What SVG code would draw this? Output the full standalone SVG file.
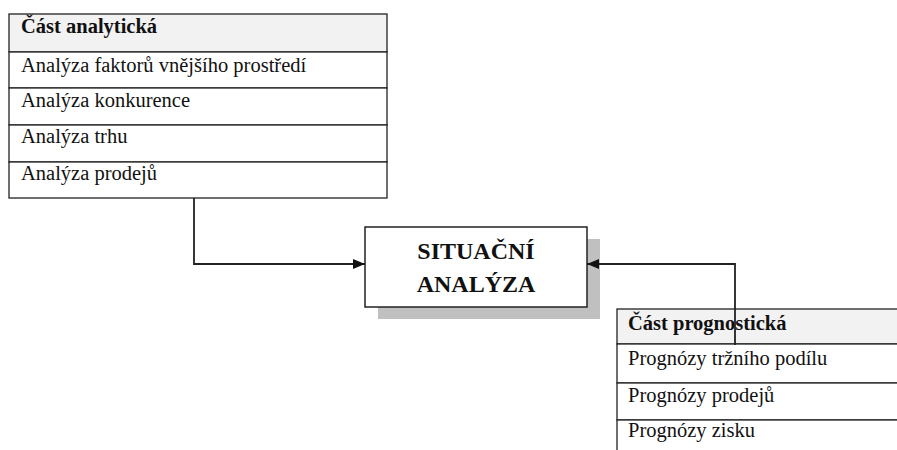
<svg xmlns="http://www.w3.org/2000/svg" width="897" height="450" viewBox="0 0 897 450">
<defs>
<style>
.cell{fill:#fff;stroke:#222;stroke-width:1.3}
.head{fill:#f2f2f2;stroke:#222;stroke-width:1.3}
.t{font-family:"Liberation Serif","Times New Roman",serif;font-size:20.5px;fill:#111}
.b{font-weight:bold}
.conn{fill:none;stroke:#222;stroke-width:1.8}
.big{font-family:"Liberation Serif","Times New Roman",serif;font-size:24px;font-weight:bold;fill:#111;text-anchor:middle}
</style>
<marker id="ah" viewBox="0 0 12 10" refX="12" refY="5" markerWidth="12" markerHeight="10" markerUnits="userSpaceOnUse" orient="auto">
<path d="M0,0 L12,5 L0,10 z" fill="#111"/>
</marker>
</defs>
<rect width="897" height="450" fill="#fff"/>
<g id="analyticka">
<rect class="head" x="9" y="14" width="378" height="38"/>
<rect class="cell" x="9" y="52" width="378" height="36"/>
<rect class="cell" x="9" y="88" width="378" height="37"/>
<rect class="cell" x="9" y="125" width="378" height="37"/>
<rect class="cell" x="9" y="162" width="378" height="36"/>
<text class="t b" x="21" y="33">Část analytická</text>
<text class="t" x="21" y="72">Analýza faktorů vnějšího prostředí</text>
<text class="t" x="21" y="107">Analýza konkurence</text>
<text class="t" x="21" y="143">Analýza trhu</text>
<text class="t" x="21" y="180">Analýza prodejů</text>
</g>
<g id="situacni">
<rect x="378" y="239" width="222" height="80" fill="#c0c0c0"/>
<rect x="365" y="227" width="222" height="80" fill="#fff" stroke="#222" stroke-width="1.5"/>
<text class="big" x="476" y="259">SITUAČNÍ</text>
<text class="big" x="476" y="292">ANALÝZA</text>
</g>
<g id="prognosticka">
<rect class="head" x="617" y="309" width="300" height="35"/>
<rect class="cell" x="617" y="344" width="300" height="39"/>
<rect class="cell" x="617" y="383" width="300" height="37"/>
<rect class="cell" x="617" y="420" width="300" height="40"/>
<text class="t b" x="628" y="330">Část prognostická</text>
<text class="t" x="628" y="365">Prognózy tržního podílu</text>
<text class="t" x="628" y="402">Prognózy prodejů</text>
<text class="t" x="628" y="437">Prognózy zisku</text>
</g>
<g id="connectors">
<path class="conn" d="M194,198 V264 H365" marker-end="url(#ah)"/>
<path class="conn" d="M735,345 V264 H587" marker-end="url(#ah)"/>
</g>
</svg>
